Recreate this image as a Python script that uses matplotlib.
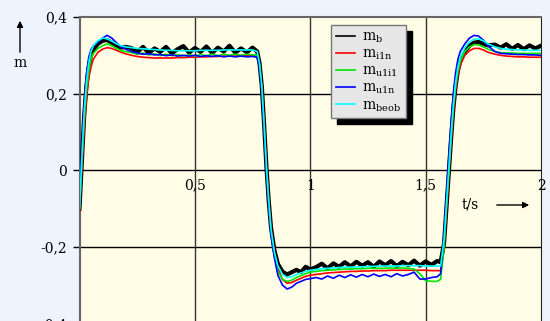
import numpy as np
import matplotlib
matplotlib.use('Agg')
import matplotlib.pyplot as plt
from matplotlib.lines import Line2D

plt.rcParams['font.family'] = ['DejaVu Serif']
plt.rcParams['mathtext.fontset'] = 'dejavuserif'

# time axis (s)
t = [0.00, 0.01, 0.02, 0.03, 0.04, 0.05, 0.06, 0.08, 0.10, 0.12, 0.14, 0.16, 0.18, 0.20,
     0.225, 0.25, 0.275, 0.30, 0.325, 0.35, 0.375, 0.40, 0.425, 0.45, 0.475, 0.50, 0.525,
     0.55, 0.575, 0.60, 0.625, 0.65, 0.675, 0.70, 0.725, 0.75,
     0.77, 0.78, 0.79, 0.80, 0.81, 0.82, 0.83, 0.845, 0.86, 0.88, 0.90, 0.92, 0.94, 0.96, 0.98, 1.00,
     1.025, 1.05, 1.075, 1.10, 1.125, 1.15, 1.175, 1.20, 1.225, 1.25, 1.275, 1.30, 1.325,
     1.35, 1.375, 1.40, 1.425, 1.45, 1.475, 1.50, 1.525, 1.55,
     1.565, 1.58, 1.59, 1.60, 1.61, 1.62, 1.63, 1.64, 1.65, 1.67, 1.69, 1.71, 1.73, 1.75, 1.77, 1.80,
     1.825, 1.85, 1.875, 1.90, 1.925, 1.95, 1.975, 2.00]

m_b = [-0.10, 0.02, 0.14, 0.22, 0.27, 0.30, 0.315, 0.33, 0.338, 0.34, 0.333, 0.326, 0.32, 0.322,
       0.319, 0.308, 0.322, 0.306, 0.318, 0.309, 0.322, 0.305, 0.316, 0.324, 0.307, 0.319, 0.309,
       0.323, 0.306, 0.320, 0.310, 0.325, 0.307, 0.318, 0.308, 0.320,
       0.31, 0.28, 0.22, 0.12, 0.01, -0.08, -0.15, -0.21, -0.245, -0.265, -0.272, -0.266, -0.260, -0.266, -0.252, -0.259,
       -0.253, -0.244, -0.256, -0.243, -0.252, -0.240, -0.251, -0.239, -0.249, -0.240, -0.252, -0.238, -0.248,
       -0.237, -0.250, -0.239, -0.248, -0.236, -0.249, -0.238, -0.247, -0.237,
       -0.24, -0.19, -0.10, -0.01, 0.08, 0.16, 0.22, 0.26, 0.285, 0.31, 0.325, 0.333, 0.335, 0.330, 0.326, 0.328,
       0.320, 0.329, 0.317, 0.327, 0.316, 0.326, 0.318, 0.325]

m_i1n = [-0.11, 0.0, 0.11, 0.19, 0.24, 0.27, 0.29, 0.308, 0.316, 0.32, 0.318, 0.313, 0.308, 0.304,
         0.300, 0.297, 0.295, 0.294, 0.293, 0.293, 0.293, 0.293, 0.294, 0.294, 0.295, 0.295, 0.296,
         0.296, 0.297, 0.297, 0.298, 0.298, 0.298, 0.299, 0.299, 0.299,
         0.297, 0.275, 0.22, 0.125, 0.015, -0.075, -0.15, -0.215, -0.258, -0.285, -0.295, -0.293, -0.287, -0.282, -0.277, -0.274,
         -0.272, -0.270, -0.268, -0.267, -0.266, -0.265, -0.264, -0.264, -0.263, -0.263, -0.262, -0.262, -0.262,
         -0.261, -0.261, -0.261, -0.261, -0.261, -0.261, -0.261, -0.262, -0.262,
         -0.262, -0.20, -0.11, -0.02, 0.07, 0.15, 0.21, 0.25, 0.275, 0.30, 0.312, 0.318, 0.318, 0.314, 0.308, 0.303,
         0.300, 0.298, 0.297, 0.296, 0.296, 0.295, 0.295, 0.295]

m_u1i1 = [-0.10, 0.02, 0.13, 0.21, 0.26, 0.29, 0.305, 0.318, 0.325, 0.33, 0.325, 0.318, 0.312, 0.310,
          0.307, 0.303, 0.306, 0.301, 0.304, 0.299, 0.303, 0.299, 0.302, 0.298, 0.302, 0.298, 0.302,
          0.299, 0.303, 0.299, 0.303, 0.300, 0.303, 0.300, 0.303, 0.301,
          0.30, 0.275, 0.215, 0.115, 0.005, -0.085, -0.16, -0.225, -0.265, -0.285, -0.29, -0.287, -0.28, -0.275, -0.27, -0.266,
          -0.264, -0.262, -0.261, -0.260, -0.259, -0.258, -0.258, -0.257, -0.257, -0.256, -0.256, -0.256, -0.256,
          -0.255, -0.256, -0.255, -0.256, -0.258, -0.270, -0.288, -0.290, -0.290,
          -0.285, -0.20, -0.10, -0.01, 0.08, 0.16, 0.22, 0.26, 0.285, 0.31, 0.322, 0.328, 0.327, 0.322, 0.316, 0.310,
          0.307, 0.306, 0.306, 0.305, 0.305, 0.305, 0.305, 0.305]

m_u1n = [-0.09, 0.05, 0.17, 0.25, 0.295, 0.315, 0.325, 0.335, 0.345, 0.352, 0.345, 0.333, 0.322, 0.316,
         0.310, 0.306, 0.303, 0.304, 0.301, 0.302, 0.299, 0.301, 0.298, 0.300, 0.298, 0.300, 0.297,
         0.299, 0.297, 0.299, 0.296, 0.298, 0.296, 0.298, 0.296, 0.297,
         0.295, 0.27, 0.21, 0.11, 0.0, -0.09, -0.165, -0.23, -0.275, -0.30, -0.31, -0.305, -0.295, -0.29, -0.285, -0.283,
         -0.280, -0.284, -0.276, -0.282, -0.274, -0.280, -0.273, -0.279, -0.272, -0.278, -0.271, -0.277, -0.272,
         -0.278, -0.270, -0.276, -0.272, -0.266, -0.284, -0.284, -0.280, -0.278,
         -0.27, -0.17, -0.07, 0.03, 0.12, 0.20, 0.255, 0.29, 0.31, 0.33, 0.345, 0.352, 0.35, 0.34, 0.325, 0.31,
         0.305, 0.304, 0.303, 0.302, 0.302, 0.301, 0.301, 0.300]

m_beob = [-0.10, 0.03, 0.15, 0.23, 0.28, 0.31, 0.325, 0.338, 0.345, 0.343, 0.337, 0.33, 0.325, 0.322,
          0.320, 0.318, 0.317, 0.316, 0.315, 0.314, 0.313, 0.313, 0.312, 0.312, 0.312, 0.312, 0.313,
          0.313, 0.313, 0.313, 0.314, 0.314, 0.314, 0.314, 0.314, 0.314,
          0.31, 0.28, 0.22, 0.12, 0.01, -0.08, -0.155, -0.215, -0.25, -0.272, -0.28, -0.278, -0.272, -0.268, -0.264, -0.261,
          -0.259, -0.257, -0.256, -0.255, -0.254, -0.253, -0.253, -0.252, -0.252, -0.251, -0.251, -0.250, -0.250,
          -0.250, -0.250, -0.249, -0.249, -0.249, -0.249, -0.250, -0.250, -0.250,
          -0.25, -0.18, -0.09, 0.0, 0.09, 0.17, 0.23, 0.27, 0.295, 0.32, 0.335, 0.342, 0.343, 0.338, 0.33, 0.322,
          0.318, 0.316, 0.315, 0.314, 0.314, 0.313, 0.313, 0.313]

series = [m_b, m_i1n, m_u1i1, m_u1n, m_beob]
labels = [r'$\mathrm{m}_{\mathrm{b}}$', r'$\mathrm{m}_{\mathrm{i1n}}$', r'$\mathrm{m}_{\mathrm{u1i1}}$',
          r'$\mathrm{m}_{\mathrm{u1n}}$', r'$\mathrm{m}_{\mathrm{beob}}$']
colors = ['black', '#ff0000', '#00e600', '#0000ff', '#00ffff']
widths = [3.0, 1.2, 1.2, 1.2, 1.2]

yticks = [-0.4, -0.2, 0, 0.2, 0.4]
ytick_labels = ['-0,4', '-0,2', '0', '0,2', '0,4']
xticks = [0.5, 1, 1.5, 2]
xtick_labels = ['0,5', '1', '1,5', '2']

fig = plt.figure(figsize=(5.5, 3.21), dpi=100, facecolor='#eef4fe')
ax = fig.add_axes([79.5 / 550, -2.5 / 321, 461.5 / 550, 306.5 / 321])
ax.set_facecolor('#fffde6')

for y, c, lw in zip(series, colors, widths):
    ax.plot(t, y, color=c, lw=lw, zorder=3)

ax.set_xlim(0, 2)
ax.set_ylim(-0.4, 0.4)
ax.set_yticks(yticks)
ax.set_yticklabels(ytick_labels, fontsize=10)
ax.set_xticks(xticks)
ax.set_xticklabels([])
ax.tick_params(axis='x', length=0)
ax.tick_params(axis='y', length=5, width=1, color='black', pad=4)

for yv in [-0.2, 0, 0.2]:
    ax.axhline(yv, color='black', lw=1, zorder=2)
for xv in [0.5, 1, 1.5]:
    ax.axvline(xv, color='#333333', lw=1, zorder=2)

for xv, lab in zip(xticks, xtick_labels):
    ax.annotate(lab, (xv, 0), xytext=(0, -6), textcoords='offset points',
                ha='center', va='top', fontsize=10, clip_on=False, zorder=4)

for side in ['left', 'top']:
    ax.spines[side].set_color('#666666')
    ax.spines[side].set_linewidth(1.5)
ax.spines['right'].set_color('#222222')
ax.spines['bottom'].set_visible(False)

# axis captions with arrows
fig.text(20 / 550, 1 - 63 / 321, 'm', ha='center', va='center', fontsize=10)
fig.add_artist(matplotlib.patches.FancyArrowPatch(
    (20 / 550, 1 - 55 / 321), (20 / 550, 1 - 18 / 321), transform=fig.transFigure,
    arrowstyle='-|>', mutation_scale=9, color='black', lw=1))
fig.text(470 / 550, 1 - 205 / 321, 't/s', ha='center', va='center', fontsize=10)
fig.add_artist(matplotlib.patches.FancyArrowPatch(
    (494 / 550, 1 - 205 / 321), (532 / 550, 1 - 205 / 321), transform=fig.transFigure,
    arrowstyle='-|>', mutation_scale=9, color='black', lw=1))

handles = [Line2D([], [], color=c, lw=1.2) for c in colors]
leg = ax.legend(handles, labels, loc='upper left', bbox_to_anchor=(331 / 550, 1 - 25 / 321),
                bbox_transform=fig.transFigure, borderaxespad=0, fontsize=10,
                handlelength=1.4, handletextpad=0.5, labelspacing=0.12, borderpad=0.35,
                fancybox=False, facecolor='#e6e6e6', edgecolor='#777777', framealpha=1,
                shadow={'color': 'black', 'alpha': 1, 'ox': 4, 'oy': -4})
leg.set_zorder(5)

fig.savefig('out.png', dpi=100, facecolor=fig.get_facecolor())
